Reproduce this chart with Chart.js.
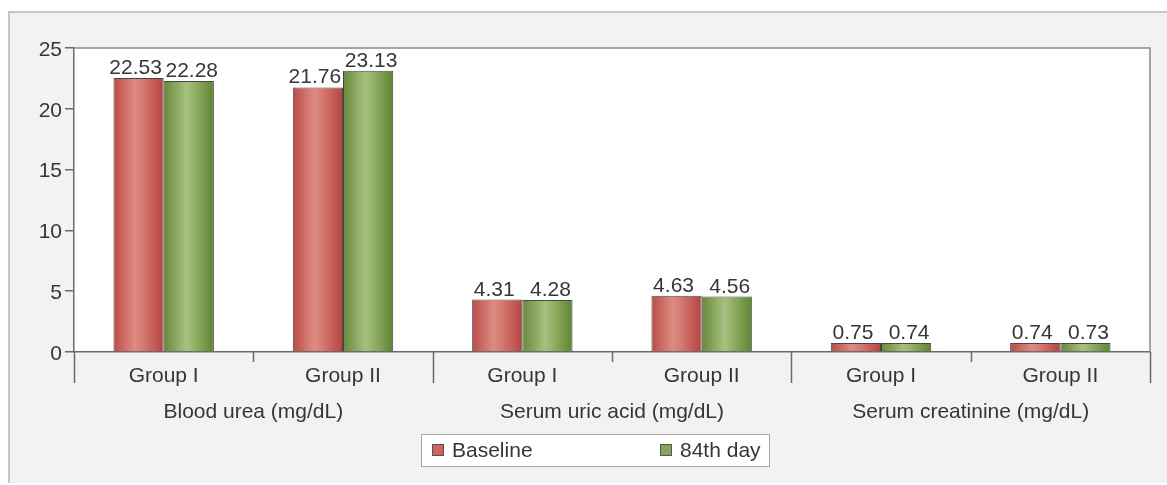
<!DOCTYPE html>
<html>
<head>
<meta charset="utf-8">
<script src="https://cdn.jsdelivr.net/npm/chart.js@4/dist/chart.umd.min.js"></script>
<style>
  html, body { margin: 0; padding: 0; background: #fff; }
  #wrap { width: 1167px; height: 485px; position: relative; }
</style>
</head>
<body>
<div id="wrap"><canvas id="c"></canvas></div>
<script>
// ---- data ----
const groupLabels   = ['Group I', 'Group II', 'Group I', 'Group II', 'Group I', 'Group II'];
const measureLabels = ['Blood urea (mg/dL)', 'Serum uric acid (mg/dL)', 'Serum creatinine (mg/dL)'];
const seriesNames   = ['Baseline', '84th day'];
const baseline      = [22.53, 21.76, 4.31, 4.63, 0.75, 0.74];
const day84         = [22.28, 23.13, 4.28, 4.56, 0.74, 0.73];
const yTicks        = [0, 5, 10, 15, 20, 25];

// ---- styling ----
const FONT = '"Liberation Sans", Arial, sans-serif';
const FSIZE = 21;
const TEXT = '#363636';
const AXIS = '#6a6a6a';
const CAT_PCT = 0.56;
const LABEL_SPREAD = [-3, 3];   // nudges the value labels of a pair apart

const redStops   = [[0, '#bd4a45'], [0.42, '#dc8c82'], [0.55, '#d77f76'], [1, '#b7433f']];
const greenStops = [[0, '#66893a'], [0.45, '#a7c080'], [0.58, '#97b46c'], [1, '#5c852f']];

// horizontal "cylinder" shading for each bar, positioned from the category scale
function cylinder(stops) {
  return function (ctx) {
    const chart = ctx.chart;
    const xs = chart.scales && chart.scales.x;
    if (ctx.type !== 'data' || !xs || !chart.chartArea) return stops[1][1];
    const catW = xs.width / groupLabels.length;
    const half = catW * CAT_PCT / 2;
    const c = xs.getPixelForValue(ctx.dataIndex);
    const left = ctx.datasetIndex === 0 ? c - half : c;
    const g = chart.ctx.createLinearGradient(left, 0, left + half, 0);
    stops.forEach(([o, col]) => g.addColorStop(o, col));
    return g;
  };
}

const decor = {
  id: 'decor',
  beforeDraw(chart) {
    const { ctx, chartArea: a } = chart;
    ctx.save();
    ctx.fillStyle = '#ffffff';
    ctx.fillRect(0, 0, chart.width, chart.height);
    // panel
    ctx.fillStyle = '#f2f2f0';
    ctx.fillRect(8, 11, chart.width - 8, 472);
    ctx.strokeStyle = '#c6c6c6';
    ctx.lineWidth = 2;
    ctx.beginPath();
    ctx.moveTo(9, 483); ctx.lineTo(9, 12); ctx.lineTo(chart.width, 12);
    ctx.stroke();
    // plot area
    ctx.fillStyle = '#ffffff';
    ctx.fillRect(a.left, a.top, a.right - a.left, a.bottom - a.top);
    ctx.restore();
  },
  afterDatasetsDraw(chart) {
    const { ctx } = chart;
    ctx.save();
    ctx.font = FSIZE + 'px ' + FONT;
    ctx.fillStyle = TEXT;
    ctx.textAlign = 'center';
    ctx.textBaseline = 'alphabetic';
    chart.data.datasets.forEach((ds, di) => {
      chart.getDatasetMeta(di).data.forEach((el, i) => {
        ctx.fillText(ds.data[i].toFixed(2), el.x + LABEL_SPREAD[di], el.y - 4);
      });
    });
    ctx.restore();
  },
  afterDraw(chart) {
    const { ctx, chartArea: a } = chart;
    const xs = chart.scales.x;
    ctx.save();
    // plot frame (top / right)
    ctx.strokeStyle = '#8a8a8a';
    ctx.lineWidth = 1.5;
    ctx.beginPath();
    ctx.moveTo(a.left, a.top); ctx.lineTo(a.right, a.top); ctx.lineTo(a.right, a.bottom);
    ctx.stroke();
    // category boundary ticks: short between groups, long between measures
    const catW = xs.width / groupLabels.length;
    ctx.strokeStyle = AXIS;
    for (let i = 0; i <= groupLabels.length; i++) {
      const x = Math.round(xs.left + i * catW) + 0.5;
      const len = (i % 2 === 0) ? 31 : 10;
      ctx.beginPath();
      ctx.moveTo(x, a.bottom); ctx.lineTo(x, a.bottom + len);
      ctx.stroke();
    }
    // legend box
    const bx = 421, by = 434, bw = 348, bh = 32;
    ctx.fillStyle = '#ffffff';
    ctx.fillRect(bx, by, bw, bh);
    ctx.strokeStyle = '#a8a8a8';
    ctx.lineWidth = 1;
    ctx.strokeRect(bx + 0.5, by + 0.5, bw, bh);
    const itemX = [432, 660];
    ctx.font = FSIZE + 'px ' + FONT;
    ctx.textBaseline = 'middle';
    ctx.textAlign = 'left';
    chart.data.datasets.forEach((ds, di) => {
      const x = itemX[di], y = by + bh / 2;
      ctx.fillStyle = ds.swatch;
      ctx.fillRect(x, y - 6, 12, 12);
      ctx.strokeStyle = '#555';
      ctx.strokeRect(x + 0.5, y - 5.5, 11, 11);
      ctx.fillStyle = TEXT;
      ctx.fillText(ds.label, x + 20, y + 1);
    });
    ctx.restore();
  }
};

new Chart(document.getElementById('c'), {
  type: 'bar',
  data: {
    labels: groupLabels,
    datasets: [
      { label: seriesNames[0], data: baseline, backgroundColor: cylinder(redStops),
        swatch: '#d0625b', borderColor: '#474747', borderWidth: 1 },
      { label: seriesNames[1], data: day84, backgroundColor: cylinder(greenStops),
        swatch: '#84a656', borderColor: '#474747', borderWidth: 1 }
    ]
  },
  options: {
    responsive: true,
    maintainAspectRatio: false,
    animation: false,
    devicePixelRatio: 1,
    categoryPercentage: CAT_PCT,
    barPercentage: 1,
    layout: { padding: { top: 48, right: 17, bottom: 53, left: 0 } },
    plugins: { legend: { display: false }, tooltip: { enabled: false } },
    scales: {
      x: {
        type: 'category', position: 'bottom', offset: true, weight: 0,
        grid: { display: false, drawTicks: false },
        border: { display: true, color: AXIS, width: 1.5 },
        ticks: { color: TEXT, font: { family: FONT, size: FSIZE }, padding: 12, maxRotation: 0, autoSkip: false },
        afterFit(s) { s.height = 40; }
      },
      x2: {
        type: 'category', position: 'bottom', offset: true, weight: 1, labels: measureLabels,
        grid: { display: false, drawTicks: false },
        border: { display: false },
        ticks: { color: TEXT, font: { family: FONT, size: FSIZE }, padding: 8, maxRotation: 0, autoSkip: false },
        afterFit(s) { s.height = 40; }
      },
      y: {
        min: 0, max: 25,
        afterBuildTicks(s) { s.ticks = yTicks.map(v => ({ value: v })); },
        grid: { drawOnChartArea: false, tickLength: 9, color: AXIS, lineWidth: 1.5 },
        border: { color: AXIS, width: 1.5 },
        ticks: { color: TEXT, font: { family: FONT, size: FSIZE }, padding: 3, labelOffset: 2 },
        afterFit(s) { s.width = 74; }
      }
    }
  },
  plugins: [decor]
});
</script>
</body>
</html>
